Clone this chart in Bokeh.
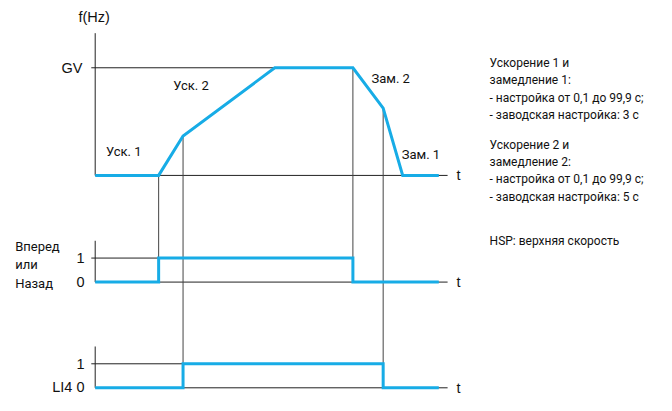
from bokeh.plotting import figure
from bokeh.models import Range1d
from bokeh.core.properties import value
from bokeh.embed import file_html
from bokeh.resources import INLINE

# ---------------- data ----------------
time_pts = [0, 65, 90, 184, 264, 295, 315, 352]          # time (arbitrary units)
freq_pts = [0, 0, 0.366, 1, 1, 0.625, 0, 0]              # f / GV
dir_t = [0, 65, 65, 264, 264, 352]                        # Вперед / Назад
dir_v = [0, 0, 1, 1, 0, 0]
li4_t = [0, 90, 90, 295, 295, 352]                        # LI4
li4_v = [0, 0, 1, 1, 0, 0]
t_axis_end = 361
gv_level = 1

notes = [
    "Ускорение 1  и",
    "замедление 1:",
    "- настройка от 0,1 до 99,9 с;",
    "- заводская настройка: 3 с",
    "Ускорение 2 и",
    "замедление 2:",
    "- настройка от 0,1 до 99,9 с;",
    "- заводская настройка: 5 с",
    "HSP: верхняя скорость",
]

# ---------------- layout ----------------
W, H = 656, 395
REF_W, REF_H = 672, 411
ORG_X = 97            # reference x of t = 0
F0, F1 = 182, 70      # reference y of f=0 and f=GV
P2 = (293, 268)       # reference y of 0 / 1 for direction panel
P3 = (403, 378)       # reference y of 0 / 1 for LI4 panel
fs = (F0 - F1)

def py(ry):           # reference y -> frequency units
    return (F0 - ry) / fs

def px(rx):           # reference x -> time units
    return rx - ORG_X

def lvl_to_f(v, panel):
    z, o = panel
    return py(z - v * (z - o))

p = figure(width=W, height=H, output_backend="svg", toolbar_location=None,
           x_range=Range1d(px(0), px(REF_W)),
           y_range=Range1d(py(REF_H), py(0)),
           x_axis_type=None, y_axis_type=None, min_border=0)
p.outline_line_color = None
p.grid.visible = False
p.background_fill_color = "white"
p.border_fill_color = "white"

BLK = "#222222"
BLUE = "#17ACE6"
NARROW = value("Roboto")
REG = value("Liberation Sans")

def seg(x0, y0, x1, y1, color=BLK, w=1):
    p.segment(x0=[x0], y0=[y0], x1=[x1], y1=[y1], line_color=color, line_width=w)

# frequency panel
seg(0, 0, 0, py(34))
seg(px(93), gv_level, time_pts[4], gv_level)
seg(0, 0, t_axis_end, 0)
# direction panel
seg(0, lvl_to_f(0, P2), 0, py(250))
seg(px(93), lvl_to_f(1, P2), dir_t[3], lvl_to_f(1, P2))
seg(0, lvl_to_f(0, P2), t_axis_end, lvl_to_f(0, P2))
# LI4 panel
seg(0, lvl_to_f(0, P3), 0, py(360))
seg(px(93), lvl_to_f(1, P3), li4_t[3], lvl_to_f(1, P3))
seg(0, lvl_to_f(0, P3), t_axis_end, lvl_to_f(0, P3))

# connectors
GR = "#444444"
seg(time_pts[1], freq_pts[1], dir_t[1], lvl_to_f(1, P2), GR)
seg(time_pts[2], freq_pts[2], li4_t[1], lvl_to_f(1, P3), GR)
seg(time_pts[4], freq_pts[4], dir_t[3], lvl_to_f(1, P2), GR)
seg(time_pts[5], freq_pts[5], li4_t[3], lvl_to_f(1, P3), GR)

# signals
p.line(time_pts, freq_pts, line_color=BLUE, line_width=3, line_join="miter")
p.line(dir_t, [lvl_to_f(v, P2) for v in dir_v], line_color=BLUE, line_width=3, line_join="miter")
p.line(li4_t, [lvl_to_f(v, P3) for v in li4_v], line_color=BLUE, line_width=3, line_join="miter")

def txt(x, y, s, font=REG, size="14.5px", align="left"):
    p.text(x=[px(x)], y=[py(y)], text=[s], text_font=font, text_font_size=size,
           text_align=align, text_baseline="middle", text_color="#111111")

txt(96, 17, "f(Hz)", align="center")
txt(84, 70, "GV", align="right")
txt(177, 88, "Уск. 2", NARROW, "13px")
txt(108, 157, "Уск. 1", NARROW, "13px")
txt(380, 81, "Зам. 2", NARROW, "13px")
txt(411, 160, "Зам. 1", NARROW, "13px")
for yy in (F0, P2[0], P3[0]):
    txt(467, yy, "t")
txt(86, P2[1], "1", align="right")
txt(86, P2[0], "0", align="right")
txt(86, P3[1], "1", align="right")
txt(86, P3[0] - 1, "LI4 0", align="right")
txt(15, 256, "Вперед", NARROW, "13px")
txt(15, 275, "или", NARROW, "13px")
txt(15, 294, "Назад", NARROW, "13px")

note_y = [65, 83, 101, 119, 150, 168, 186, 204, 250]
for s, yy in zip(notes, note_y):
    txt(501, yy, s, NARROW, "12px")

open("out.html", "w").write(file_html(p, INLINE))
